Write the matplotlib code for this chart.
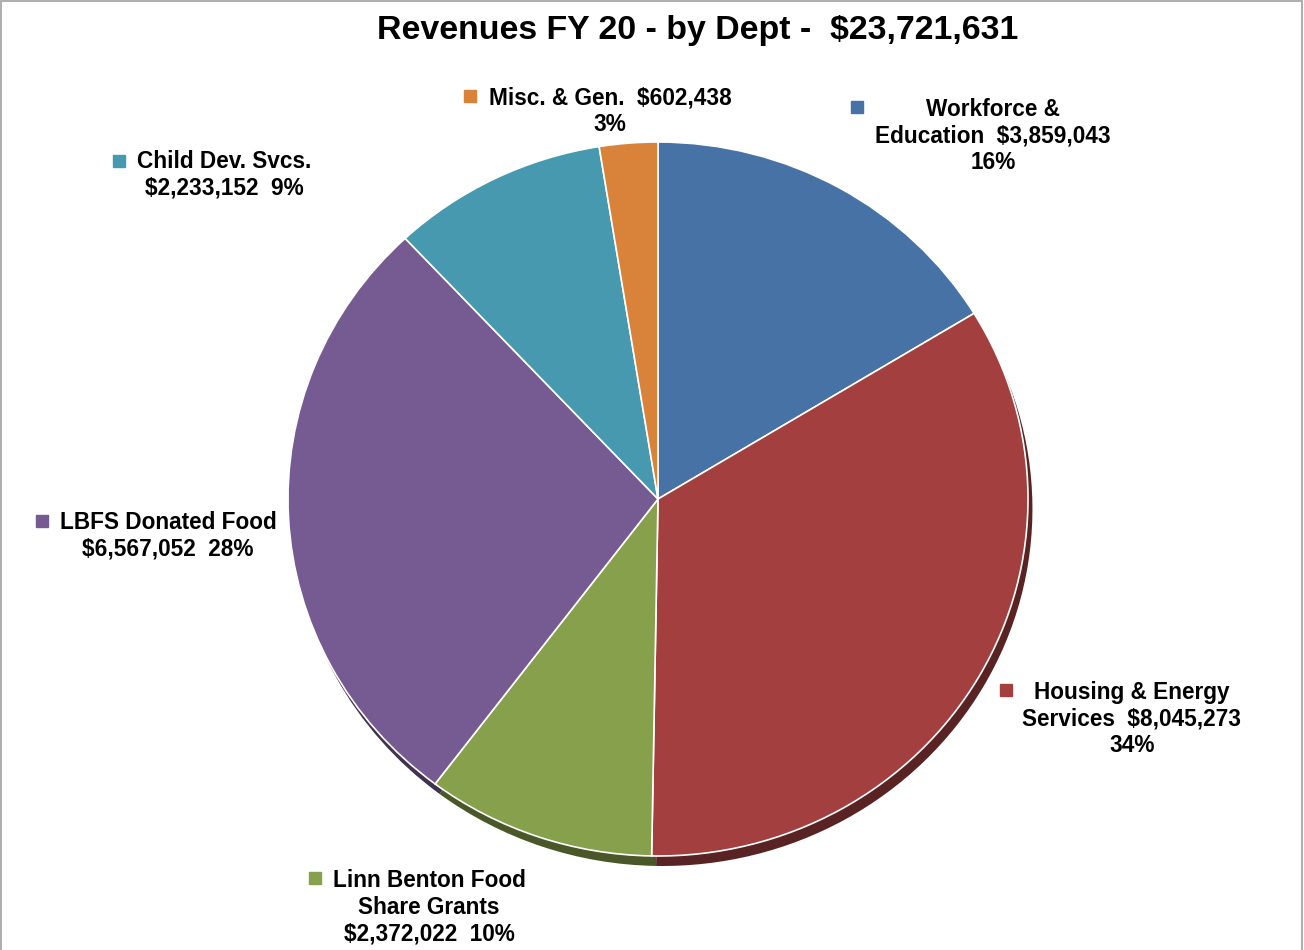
import numpy as np
import matplotlib.pyplot as plt
from matplotlib.colors import to_rgb
from matplotlib.lines import Line2D
from matplotlib.patches import Rectangle

plt.rcParams['font.family'] = ['Liberation Sans', 'DejaVu Sans']

depts = ['Workforce & Education', 'Housing & Energy Services', 'Linn Benton Food Share Grants',
         'LBFS Donated Food', 'Child Dev. Svcs.', 'Misc. & Gen.']
revenue = [3859043, 8045273, 2372022, 6567052, 2233152, 602438]
pcts = [16, 34, 10, 28, 9, 3]
colors = ['#4672A6', '#A3403F', '#86A04B', '#765B92', '#4699AF', '#D9833A']
label_texts = [
    'Workforce &\nEducation  $3,859,043\n16%',
    'Housing & Energy\nServices  $8,045,273\n34%',
    'Linn Benton Food\nShare Grants\n$2,372,022  10%',
    'LBFS Donated Food\n$6,567,052  28%',
    'Child Dev. Svcs.\n$2,233,152  9%',
    'Misc. & Gen.  $602,438\n3%',
]
# label centre (figure px) and marker position (figure px)
label_pos = [(993, 136), (1132, 719), (429, 907), (168, 536), (224, 175), (610, 111)]
marker_pos = [(857, 107), (1006, 690), (315, 878), (42, 521), (119, 161), (470, 96)]

W, H = 1304, 950
fig = plt.figure(figsize=(W / 100, H / 100), dpi=100)

cx, cy, rx, ry = 658, 499, 370, 357
ax = fig.add_axes([(cx - rx) / W, (H - cy - ry) / H, 2 * rx / W, 2 * ry / H])

dark = [tuple(c * 0.55 for c in to_rgb(col)) for col in colors]
ax.pie(revenue, colors=dark, startangle=90, counterclock=False,
       center=(0.012, -0.028), wedgeprops=dict(linewidth=0))
ax.pie(revenue, colors=colors, startangle=90, counterclock=False,
       wedgeprops=dict(edgecolor='white', linewidth=1.2))
ax.set_xlim(-1, 1)
ax.set_ylim(-1, 1)
ax.set_aspect('auto')
ax.axis('off')

fig.text(698 / W, 1 - 30 / H, 'Revenues FY 20 - by Dept -  $23,721,631', ha='center', va='center',
         fontsize=24.4, fontweight='bold')

for txt, (lx, ly), (mx, my), col in zip(label_texts, label_pos, marker_pos, colors):
    fig.text(lx / W, 1 - ly / H, txt, ha='center', va='center', fontsize=16.3,
             fontweight='bold', linespacing=1.2)
    fig.add_artist(Line2D([mx / W], [1 - my / H], marker='s', markersize=8,
                          color=col, transform=fig.transFigure))

fig.add_artist(Rectangle((1 / W, -0.05), 1 - 3 / W, 1.05 - 1 / H, fill=False,
                         edgecolor='#A0A0A0', linewidth=1.2, transform=fig.transFigure))

fig.savefig('out.png', dpi=100)
